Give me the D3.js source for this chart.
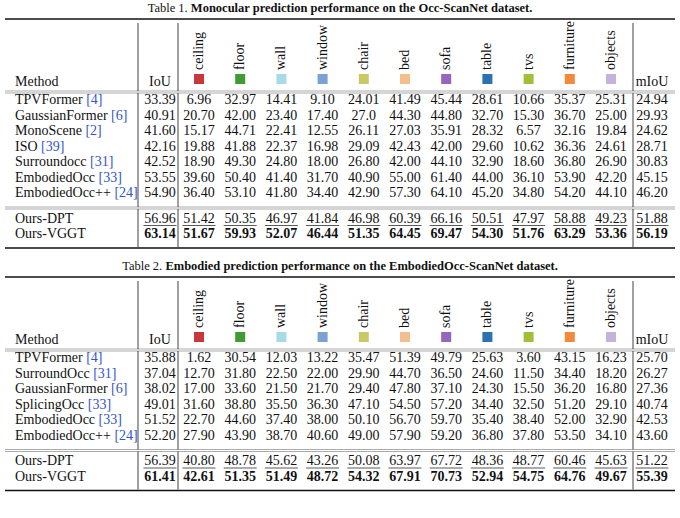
<!DOCTYPE html>
<html><head><meta charset="utf-8">
<script src="https://cdn.jsdelivr.net/npm/d3@7"></script>
<style>body{margin:0;background:#fff}svg text,svg tspan{font-family:"Liberation Serif","Times New Roman",serif;fill:#111}</style>
</head><body><svg id="c" width="680" height="518"></svg>
<script>
// classes and colours
var classes = ["ceiling","floor","wall","window","chair","bed","sofa","table","tvs","furniture","objects"];
var swatches = ["#c8373a","#3f9b34","#a8dbe6","#7ca2d3","#c9c96a","#f4bf8e","#9467bd","#2c72b0","#a3bf3a","#f28a3a","#c5b3dc"];

// table 1
var methods1 = [["TPVFormer","4"],["GaussianFormer","6"],["MonoScene","2"],["ISO","39"],["Surroundocc","31"],["EmbodiedOcc","33"],["EmbodiedOcc++","24"],["Ours-DPT",""],["Ours-VGGT",""]];
var rows1 = [
 ["33.39","6.96","32.97","14.41","9.10","24.01","41.49","45.44","28.61","10.66","35.37","25.31","24.94"],
 ["40.91","20.70","42.00","23.40","17.40","27.0","44.30","44.80","32.70","15.30","36.70","25.00","29.93"],
 ["41.60","15.17","44.71","22.41","12.55","26.11","27.03","35.91","28.32","6.57","32.16","19.84","24.62"],
 ["42.16","19.88","41.88","22.37","16.98","29.09","42.43","42.00","29.60","10.62","36.36","24.61","28.71"],
 ["42.52","18.90","49.30","24.80","18.00","26.80","42.00","44.10","32.90","18.60","36.80","26.90","30.83"],
 ["53.55","39.60","50.40","41.40","31.70","40.90","55.00","61.40","44.00","36.10","53.90","42.20","45.15"],
 ["54.90","36.40","53.10","41.80","34.40","42.90","57.30","64.10","45.20","34.80","54.20","44.10","46.20"],
 ["56.96","51.42","50.35","46.97","41.84","46.98","60.39","66.16","50.51","47.97","58.88","49.23","51.88"],
 ["63.14","51.67","59.93","52.07","46.44","51.35","64.45","69.47","54.30","51.76","63.29","53.36","56.19"]];

// table 2
var methods2 = [["TPVFormer","4"],["SurroundOcc","31"],["GaussianFormer","6"],["SplicingOcc","33"],["EmbodiedOcc","33"],["EmbodiedOcc++","24"],["Ours-DPT",""],["Ours-VGGT",""]];
var rows2 = [
 ["35.88","1.62","30.54","12.03","13.22","35.47","51.39","49.79","25.63","3.60","43.15","16.23","25.70"],
 ["37.04","12.70","31.80","22.50","22.00","29.90","44.70","36.50","24.60","11.50","34.40","18.20","26.27"],
 ["38.02","17.00","33.60","21.50","21.70","29.40","47.80","37.10","24.30","15.50","36.20","16.80","27.36"],
 ["49.01","31.60","38.80","35.50","36.30","47.10","54.50","57.20","34.40","32.50","51.20","29.10","40.74"],
 ["51.52","22.70","44.60","37.40","38.00","50.10","56.70","59.70","35.40","38.40","52.00","32.90","42.53"],
 ["52.20","27.90","43.90","38.70","40.60","49.00","57.90","59.20","36.80","37.80","53.50","34.10","43.60"],
 ["56.39","40.80","48.78","45.62","43.26","50.08","63.97","67.72","48.36","48.77","60.46","45.63","51.22"],
 ["61.41","42.61","51.35","51.49","48.72","54.32","67.91","70.73","52.94","54.75","64.76","49.67","55.39"]];

var FONT = "'Liberation Serif','Times New Roman',serif";
var svg = d3.select("#c");
var x = d3.scalePoint().domain(classes).range([199, 611]);
var xIoU = 160, xM = 652;

function table(y0, num, title, methods, rows) {
  var g = svg.append("g").attr("transform", "translate(0," + y0 + ")").attr("font-family", FONT);
  var cap = g.append("text").attr("x", 340).attr("y", 12).attr("text-anchor", "middle").attr("font-size", 12.5);
  cap.append("tspan").text("Table " + num + ". ");
  cap.append("tspan").attr("font-weight", "bold").text(title);
  g.append("line").attr("x1", 5).attr("x2", 675).attr("y1", 19).attr("y2", 19).attr("stroke", "#111").attr("stroke-width", 1.6);
  // header
  g.append("text").attr("x", 15).attr("y", 86).attr("font-size", 14).text("Method");
  g.append("text").attr("x", xIoU).attr("y", 86).attr("text-anchor", "middle").attr("font-size", 14).text("IoU");
  g.append("text").attr("x", xM).attr("y", 86).attr("text-anchor", "middle").attr("font-size", 14).text("mIoU");
  classes.forEach(function (c, i) {
    g.append("text").attr("transform", "translate(" + (x(c) + 4) + ",70) rotate(-90)").attr("font-size", 14).text(c);
    g.append("rect").attr("x", x(c) - 5).attr("y", 74).attr("width", 10).attr("height", 10).attr("fill", swatches[i]);
  });
  var hb = 91;
  [hb, hb + 2].forEach(function (yy) { g.append("line").attr("x1", 5).attr("x2", 675).attr("y1", yy).attr("y2", yy).attr("stroke", "#888").attr("stroke-width", 0.7); });
  var nb = methods.length - 2;
  var y = d3.scaleLinear().domain([0, 1]).range([104, 119.5]);
  var ry = function (i) { return i < nb ? y(i) : y(i) + 10; };
  var sep = y(nb - 1) + 10;
  [sep, sep + 2].forEach(function (yy) { g.append("line").attr("x1", 5).attr("x2", 675).attr("y1", yy).attr("y2", yy).attr("stroke", "#888").attr("stroke-width", 0.7); });
  var bot = ry(methods.length - 1) + 10;
  g.append("line").attr("x1", 5).attr("x2", 675).attr("y1", bot).attr("y2", bot).attr("stroke", "#111").attr("stroke-width", 1.6);
  // vertical rules
  [138, 178, 633].forEach(function (vx) {
    g.append("line").attr("x1", vx).attr("x2", vx).attr("y1", 23).attr("y2", hb).attr("stroke", "#111").attr("stroke-width", 0.8);
    g.append("line").attr("x1", vx).attr("x2", vx).attr("y1", hb + 2).attr("y2", sep).attr("stroke", "#111").attr("stroke-width", 0.8);
    g.append("line").attr("x1", vx).attr("x2", vx).attr("y1", sep + 2).attr("y2", bot - 1).attr("stroke", "#111").attr("stroke-width", 0.8);
  });
  methods.forEach(function (m, i) {
    var t = g.append("text").attr("x", 15).attr("y", ry(i)).attr("font-size", 14).text(m[0]);
    if (m[1]) t.append("tspan").style("fill", "#3355cc").text(" [" + m[1] + "]");
    var bold = i === methods.length - 1, under = i === methods.length - 2;
    rows[i].forEach(function (v, j) {
      var cx = j === 0 ? xIoU : j === 12 ? xM : x(classes[j - 1]);
      g.append("text").attr("x", cx).attr("y", ry(i)).attr("text-anchor", "middle").attr("font-size", 14)
        .attr("font-weight", bold ? "bold" : "normal").text(v);
      if (under) {
        var w = v.length * 6.6;
        g.append("line").attr("x1", cx - w / 2).attr("x2", cx + w / 2).attr("y1", ry(i) + 3).attr("y2", ry(i) + 3).attr("stroke", "#111").attr("stroke-width", 0.7);
      }
    });
  });
}
table(0, 1, "Monocular prediction performance on the Occ-ScanNet dataset.", methods1, rows1);
table(258, 2, "Embodied prediction performance on the EmbodiedOcc-ScanNet dataset.", methods2, rows2);
</script></body></html>
